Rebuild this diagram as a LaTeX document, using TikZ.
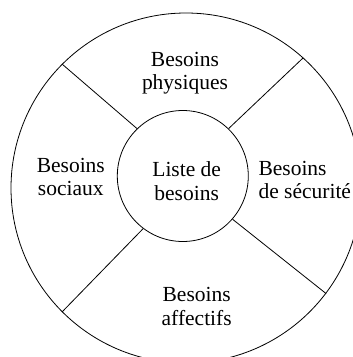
\documentclass[tikz,border=0pt]{standalone}
\usepackage{fontspec}
\setmainfont{Liberation Serif}
\begin{document}
\begin{tikzpicture}[x=1pt,y=-1pt,
  ring/.style={draw,circle,inner sep=0pt,line width=0.8pt},
  lbl/.style={font=\fontsize{21.5}{23.2}\selectfont,inner sep=0pt,anchor=base},
  spoke/.style={line width=0.8pt}]
\useasboundingbox (0,0) rectangle (353,357);
\begin{scope}
\clip (0,0) rectangle (353,357);
\node[ring,minimum size=350pt] (out) at (186,188) {};
\end{scope}
\node[ring,minimum size=131pt] (in) at (182.8,176) {};
\draw[spoke] (in.134) -- (out.135);
\draw[spoke] (in.46.3) -- (out.48.2);
\draw[spoke] (in.-41.2) -- (out.-37.6);
\draw[spoke] (in.233) -- (out.225);
\node[lbl,align=center] (phys) at (185,89.5) {Besoins\\physiques};
\node[lbl,align=center] (soc) at (70.8,195.5) {Besoins\\sociaux};
\node[lbl,align=center] (liste) at (186.7,200) {Liste de\\besoins};
\node[lbl,align=left,anchor=base west] (secu) at (258.3,198.8) {Besoins\\de sécurité};
\node[lbl,align=center] (aff) at (196.7,325) {Besoins\\affectifs};
\end{tikzpicture}
\end{document}
